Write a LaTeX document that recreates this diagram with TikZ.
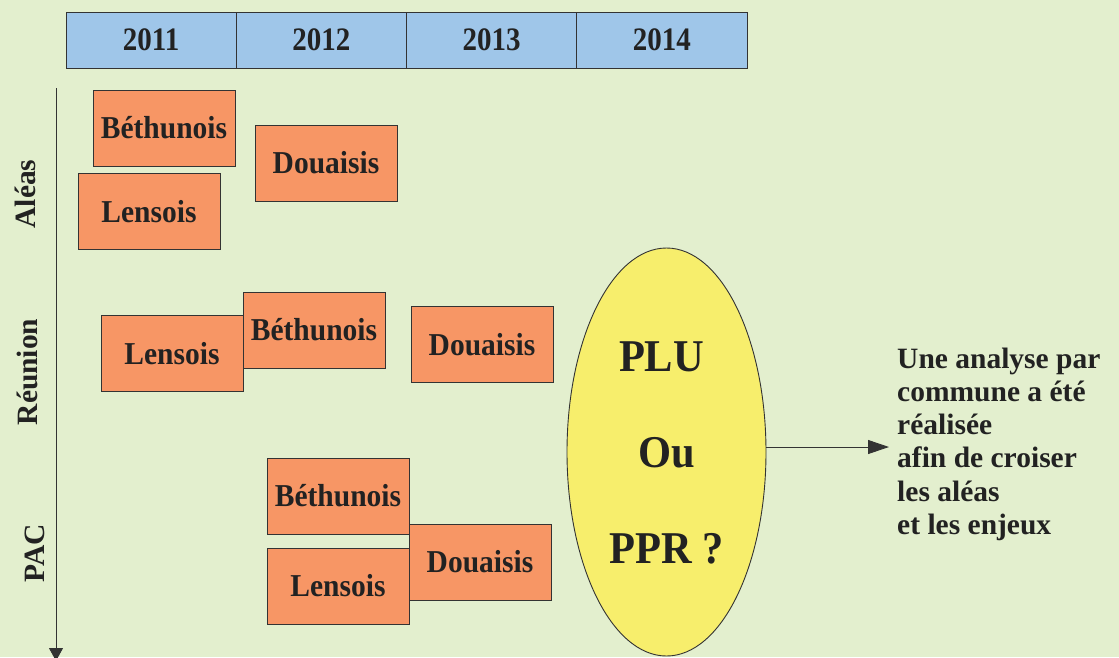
\documentclass[tikz,border=0pt]{standalone}
\usepackage{fontspec}
\usepackage{graphicx}
\setmainfont{Liberation Serif}
\usetikzlibrary{shapes.geometric,arrows.meta}
\definecolor{bg}{HTML}{E3EFCE}
\definecolor{hdr}{HTML}{9FC6E9}
\definecolor{org}{HTML}{F79665}
\definecolor{ylw}{HTML}{F7EE6C}
\definecolor{txt}{HTML}{222222}
\definecolor{linec}{HTML}{333333}
\newcommand{\vst}[2][1.1]{\scalebox{1}[#1]{#2}}
\begin{document}
\begin{tikzpicture}[x=1pt,y=-1pt,
  yearcell/.style={draw=linec, line width=0.9pt, fill=hdr, minimum width=170.25pt, minimum height=56pt, inner sep=0pt,
    font=\fontsize{29}{31}\selectfont\bfseries, text=txt},
  areabox/.style={draw=linec, line width=0.9pt, fill=org, minimum width=142pt, minimum height=76pt, inner sep=0pt,
    font=\fontsize{29.5}{31}\selectfont\bfseries, text=txt},
  rowlabel/.style={rotate=90, inner sep=0pt, font=\fontsize{29.5}{31}\selectfont\bfseries, text=txt},
  bigtext/.style={inner sep=0pt, font=\fontsize{42.5}{45}\selectfont\bfseries, text=txt},
  conn/.style={draw=linec, line width=0.9pt}
]
\fill[bg] (0,0) rectangle (1119,657);
\useasboundingbox (0,0) rectangle (1119,657);

% header
\node[yearcell] (y1) at (151.1,40) {\vst[1.13]{2011}};
\node[yearcell] (y2) at (321.4,40) {\vst[1.13]{2012}};
\node[yearcell] (y3) at (491.6,40) {\vst[1.13]{2013}};
\node[yearcell] (y4) at (661.9,40) {\vst[1.13]{2014}};

% axis
\coordinate (axtop) at (56,88);
\coordinate (axbot) at (56,661);
\draw[conn, -{Triangle[length=13pt,width=14pt]}] (axtop) -- (axbot);

% row labels
\node[rowlabel] (lA) at (25,194) {Aléas};
\node[rowlabel] (lR) at (27,372) {Réunion};
\node[rowlabel] (lP) at (35,553) {PAC};

% Aléas
\node[areabox] (aB) at (164,128) {\vst[1.08]{Béthunois}};
\node[areabox] (aL) at (149,211.5) {\vst[1.08]{Lensois}};
\node[areabox] (aD) at (326,163) {\vst[1.08]{Douaisis}};

% Réunion
\node[areabox] (rL) at (172,353.5) {\vst[1.08]{Lensois}};
\node[areabox] (rB) at (314,330) {\vst[1.08]{Béthunois}};
\node[areabox] (rD) at (482,344.5) {\vst[1.08]{Douaisis}};

% PAC
\node[areabox] (pB) at (338,496) {\vst[1.08]{Béthunois}};
\node[areabox] (pL) at (338,586) {\vst[1.08]{Lensois}};
\node[areabox] (pD) at (480,562) {\vst[1.08]{Douaisis}};

% ellipse
\node[ellipse, draw=linec, line width=0.9pt, fill=ylw, minimum width=199pt, minimum height=408pt, inner sep=0pt] (ell) at (666.5,452) {};
\node[bigtext] (plu) at (661.5,357) {\vst[1.07]{PLU}};
\node[bigtext] (ou) at (667,453) {\vst[1.07]{Ou}};
\node[bigtext] (ppr) at (666.5,549) {\vst[1.07]{PPR ?}};

% arrow and conclusion
\coordinate (aend) at (889,447);
\draw[conn, -{Triangle[length=21pt,width=14pt]}] (ell.east |- aend) -- (aend);
\node[anchor=base west, inner sep=0pt, text=txt, font=\fontsize{29.5}{33.3}\selectfont\bfseries] (concl) at (897,368)
  {\begin{tabular}[t]{@{}l@{}}Une analyse par\\commune a été\\réalisée\\afin de croiser\\les aléas\\et les enjeux\end{tabular}};
\end{tikzpicture}
\end{document}
